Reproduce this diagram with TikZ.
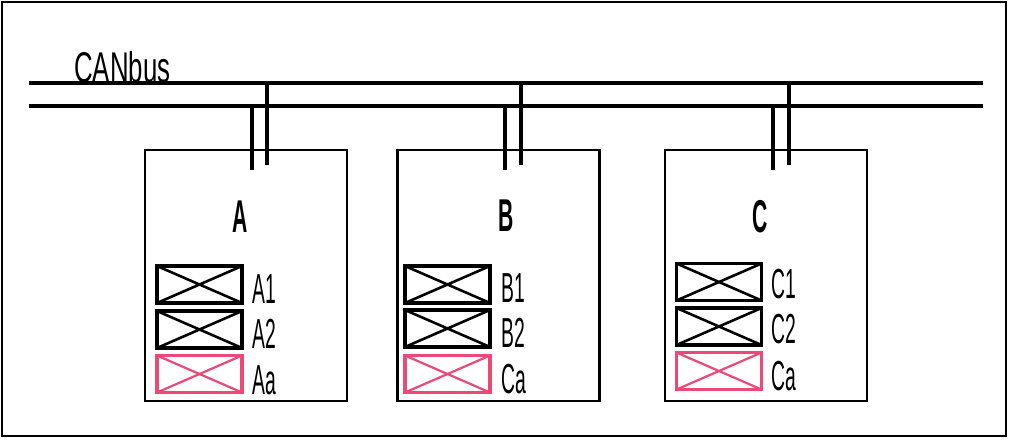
\documentclass[tikz,border=0pt]{standalone}
\usepackage{fontspec}
\newfontfamily\condA[FakeStretch=0.6]{Liberation Sans}
\newfontfamily\condB[FakeStretch=0.46]{Liberation Sans}
\definecolor{pinkred}{RGB}{236,72,120}
\begin{document}
\begin{tikzpicture}[x=1pt,y=-1pt,
  module/.style={draw,line width=2.2pt,minimum width=202pt,minimum height=251pt,inner sep=0pt},
  xbox/.style={draw,line width=3.2pt,minimum width=85pt,minimum height=37pt,inner sep=0pt,
    path picture={\draw[line width=2.6pt] (path picture bounding box.north west) -- (path picture bounding box.south east)
      (path picture bounding box.south west) -- (path picture bounding box.north east);}},
  pbox/.style={xbox,draw=pinkred,path picture={\draw[pinkred,line width=2.2pt] (path picture bounding box.north west) -- (path picture bounding box.south east)
      (path picture bounding box.south west) -- (path picture bounding box.north east);}},
  lbl/.style={anchor=base west,inner sep=0pt,font=\condB\fontsize{42}{42}\selectfont},
  ttl/.style={anchor=base,inner sep=0pt,font=\condB\bfseries\fontsize{46}{46}\selectfont},
  wire/.style={line width=3.2pt}]
\useasboundingbox (0,0) rectangle (1009,439);
\draw[line width=2.8pt] (2,2) rectangle (1006,436);
% bus
\coordinate (b1w) at (29,83); \coordinate (b1e) at (983,83);
\coordinate (b2w) at (29,106); \coordinate (b2e) at (983,106);
\draw[wire] (b1w) -- (b1e);
\draw[wire] (b2w) -- (b2e);
\node[anchor=base west,inner sep=0pt,font=\condA\fontsize{43}{43}\selectfont] (canbus) at (74,82) {CANbus};
% modules
\node[module] (A) at (246,275.5) {};
\node[module] (B) at (498.5,275.5) {};
\node[module] (C) at (766,275.5) {};
% stubs
\foreach \m/\xl/\xr in {A/252/267,B/505/521,C/773/789}{
  \coordinate (\m hi) at (\xr,83); \coordinate (\m hiend) at (\xr,165);
  \coordinate (\m lo) at (\xl,106); \coordinate (\m loend) at (\xl,170);
  \draw[wire] (\m hi) -- (\m hiend);
  \draw[wire] (\m lo) -- (\m loend);
}
% titles
\node[ttl] (tA) at (240,232) {A};
\node[ttl] (tB) at (506,231) {B};
\node[ttl] (tC) at (760,232) {C};
% A boxes
\node[xbox] (A1) at (199.5,284.5) {};
\node[xbox] (A2) at (199.5,329.5) {};
\node[pbox] (Aa) at (199.5,374) {};
\node[lbl] (lA1) at (252,303) {A1};
\node[lbl] (lA2) at (252,348) {A2};
\node[lbl] (lAa) at (252,394) {Aa};
% B boxes
\node[xbox] (B1) at (447.5,284.5) {};
\node[xbox] (B2) at (447.5,328.5) {};
\node[pbox] (Ba) at (447.5,374) {};
\node[lbl] (lB1) at (501,302) {B1};
\node[lbl] (lB2) at (501,347) {B2};
\node[lbl] (lBa) at (501,393) {Ca};
% C boxes
\node[xbox] (C1) at (719,282) {};
\node[xbox] (C2) at (719,326.5) {};
\node[pbox] (Ca) at (719,371) {};
\node[lbl] (lC1) at (771,298) {C1};
\node[lbl] (lC2) at (771,343) {C2};
\node[lbl] (lCa) at (771,390) {Ca};
\end{tikzpicture}
\end{document}
